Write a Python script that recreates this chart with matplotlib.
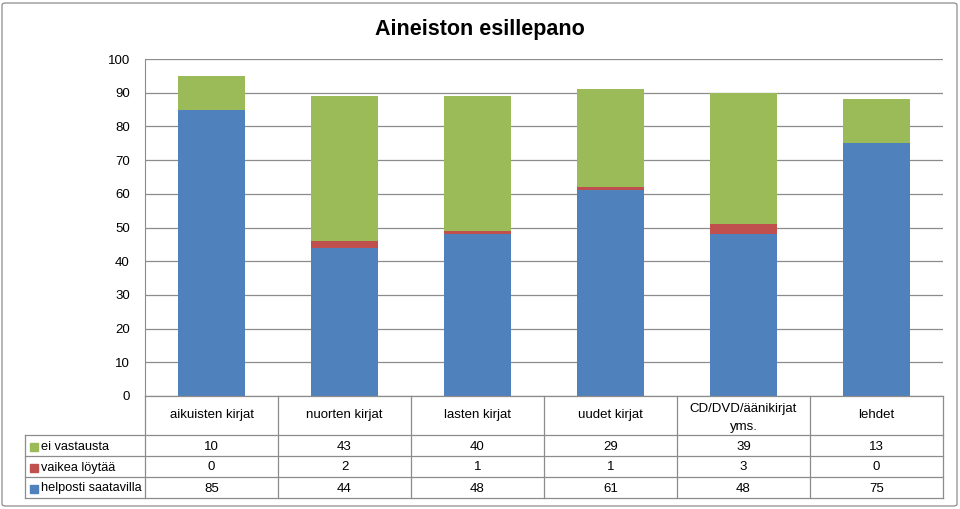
import matplotlib
matplotlib.use("Agg")
import matplotlib.pyplot as plt
import matplotlib.transforms as mtransforms
from matplotlib.patches import FancyBboxPatch, Rectangle
import numpy as np

plt.rcParams['font.family'] = ['Liberation Sans', 'DejaVu Sans']

# data
categories = ["aikuisten kirjat", "nuorten kirjat", "lasten kirjat", "uudet kirjat",
              "CD/DVD/äänikirjat\nyms.", "lehdet"]
helposti = [85, 44, 48, 61, 48, 75]
vaikea = [0, 2, 1, 1, 3, 0]
ei_vastausta = [10, 43, 40, 29, 39, 13]

series_names = ["ei vastausta", "vaikea löytää", "helposti saatavilla"]
colors = {"helposti saatavilla": "#4F81BD", "vaikea löytää": "#C0504D", "ei vastausta": "#9BBB59"}

W, H = 960, 509
fig = plt.figure(figsize=(W / 100, H / 100), dpi=100)

def fx(px):
    return px / W

def fy(py):
    return 1 - py / H

# plot area in pixels
left, right, top, bottom = 145, 943, 59, 396
ax = fig.add_axes([fx(left), fy(bottom), fx(right - left), fy(top) - fy(bottom)])

x = np.arange(len(categories))
bw = 0.51
ax.bar(x, helposti, bw, color=colors["helposti saatavilla"], zorder=3)
ax.bar(x, vaikea, bw, bottom=helposti, color=colors["vaikea löytää"], zorder=3)
b2 = np.array(helposti) + np.array(vaikea)
ax.bar(x, ei_vastausta, bw, bottom=b2, color=colors["ei vastausta"], zorder=3)

ax.set_xlim(-0.5, len(categories) - 0.5)
ax.set_ylim(0, 100)
ax.set_yticks(range(0, 101, 10))
ax.yaxis.grid(True, color="#8c8c8c", linewidth=0.9, zorder=0)
ax.set_xticks([])
ax.tick_params(axis="y", length=0, pad=11, labelsize=9.5)
for s in ["top", "right", "bottom"]:
    ax.spines[s].set_visible(False)
ax.spines["left"].set_color("#8c8c8c")

fig.text(0.5, fy(29), "Aineiston esillepano", ha="center", va="center",
         fontsize=15.5, fontweight="bold")

# data table below the plot
line_kw = dict(color="#8c8c8c", linewidth=0.9)
bt = mtransforms.blended_transform_factory(ax.transData, fig.transFigure)
row_y = [396, 435, 456, 477, 498]
tl = 25  # table left edge
fs = 9.5

# horizontal lines
fig.add_artist(plt.Line2D([fx(left), fx(right)], [fy(row_y[0])] * 2, **line_kw))
for yy in row_y[1:]:
    fig.add_artist(plt.Line2D([fx(tl), fx(right)], [fy(yy)] * 2, **line_kw))
# vertical lines
fig.add_artist(plt.Line2D([fx(tl)] * 2, [fy(row_y[1]), fy(row_y[-1])], **line_kw))
for i in range(len(categories) + 1):
    ax_line = plt.Line2D([i - 0.5] * 2, [fy(row_y[0]), fy(row_y[-1])],
                         transform=bt, **line_kw)
    fig.add_artist(ax_line)

# header
for i, c in enumerate(categories):
    yc = 418 if "\n" in c else 415
    fig.text(i, fy(yc), c, transform=bt, ha="center", va="center",
             fontsize=fs, linespacing=1.75)

rows = [ei_vastausta, vaikea, helposti]
for r, (name, vals) in enumerate(zip(series_names, rows)):
    yc = (row_y[r + 1] + row_y[r + 2]) / 2 + 1
    fig.add_artist(Rectangle((fx(30), fy(yc + 4)), fx(8), fy(0) - fy(8),
                             transform=fig.transFigure, color=colors[name]))
    fig.text(fx(41), fy(yc), name, ha="left", va="center", fontsize=9.2)
    for i, v in enumerate(vals):
        fig.text(i, fy(yc), str(v), transform=bt, ha="center", va="center", fontsize=fs)

# outer frame
fig.add_artist(FancyBboxPatch((fx(2), fy(506)), fx(955), fy(0) - fy(503),
                              boxstyle="round,pad=0,rounding_size=0.004",
                              transform=fig.transFigure, fill=False,
                              edgecolor="#8c8c8c", linewidth=0.9))

fig.savefig("out.png", dpi=100)
